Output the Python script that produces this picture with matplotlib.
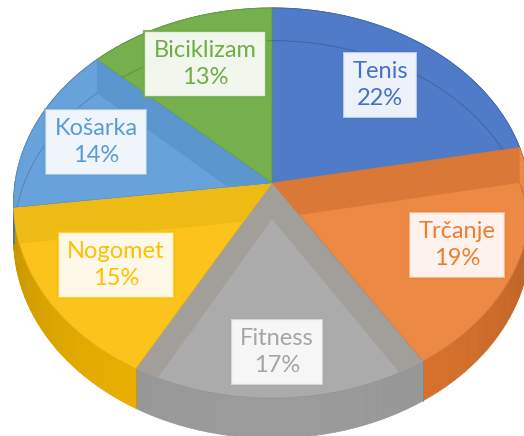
import numpy as np
import matplotlib.pyplot as plt
from matplotlib.patches import Polygon
from matplotlib.colors import to_rgb

# sport preferences, share in percent
sports = ['Tenis', 'Trčanje', 'Fitness', 'Nogomet', 'Košarka', 'Biciklizam']
shares = [22, 19, 17, 15, 14, 13]

# colours: label text / side walls, top faces, radial wall bands
base_colors = ['#4472c4', '#ed7d31', '#a5a5a5', '#ffc000', '#5b9bd5', '#70ad47']
top_colors = ['#4f7bc8', '#ec8945', '#ababab', '#fbc31c', '#68a2da', '#76b04e']
band_colors = ['#4a74c0', '#da7838', '#a29f9b', '#eeba14', '#5b96cf', '#6aa545']
edge_alpha = [0.3, 0.45, 0.4, 0.7, 0.5, 0.85]

# label box centres (pixels)
label_xy = [(380, 85), (457, 245), (277, 352), (116, 265), (96, 142), (205, 64)]

# perspective pie geometry (pixels)
CX, CY = 272, 183
SX, SY = 257, 193
K = 0.1027
DEPTH = 36


def proj(theta, r=1.0, z=0.0):
    th = np.radians(theta)
    xd = r * np.sin(th)
    yd = r * np.cos(th)
    w = 1 + K * yd
    return CX + SX * xd / w, CY - SY * yd / w + DEPTH * z / w


def arc(a0, a1, z=0.0, n=None):
    n = n or max(int(abs(a1 - a0) / 1.0), 2)
    th = np.linspace(a0, a1, n)
    x, y = proj(th, 1.0, z)
    return np.column_stack([x, y])


def shade(color, f):
    return tuple(np.clip(np.array(to_rgb(color)) * f, 0, 1))


fig = plt.figure(figsize=(5.24, 4.36), dpi=100)
ax = fig.add_axes([0, 0, 1, 1])
ax.set_xlim(0, 524)
ax.set_ylim(436, 0)
ax.axis('off')

bounds = np.concatenate([[0], np.cumsum(shares)]) / sum(shares) * 360

# outer side walls, shaded by angle
for i in range(len(sports)):
    a0, a1 = bounds[i], bounds[i + 1]
    th = np.linspace(a0, a1, int((a1 - a0) / 2) + 2)
    for t0, t1 in zip(th[:-1], th[1:]):
        tm = np.radians((t0 + t1) / 2)
        f = 0.74 + 0.2 * max(0.0, -np.cos(tm))
        c = shade(base_colors[i], f)
        quad = [proj(t0), proj(t1), proj(t1, 1, 1), proj(t0, 1, 1)]
        ax.add_patch(Polygon(quad, closed=True, fc=c, ec=c, lw=0.6, zorder=1))
    # edge between neighbouring walls
    x0, y0 = proj(a0)
    x1, y1 = proj(a0, 1, 1)
    ax.plot([x0, x1], [y0, y1], color=shade(base_colors[i], 0.8), lw=0.6, zorder=1.5)

# top faces with the walls showing through
for i in range(len(sports)):
    a0, a1 = bounds[i], bounds[i + 1]
    pts = np.vstack([[proj(0, 0)], arc(a0, a1)])
    top = Polygon(pts, closed=True, fc=top_colors[i],
                  ec=shade(top_colors[i], 0.88), lw=0.7, zorder=2)
    ax.add_patch(top)

    for a in (a0, a1):
        wall = [proj(a, 0), proj(a), proj(a, 1, 1), proj(a, 0, 1)]
        band = Polygon(wall, closed=True, fc=band_colors[i], ec='none', zorder=3)
        band.set_clip_path(top)
        ax.add_patch(band)

    rim = arc(a0, a1, z=1)
    ln, = ax.plot(rim[:, 0], rim[:, 1], color=shade(top_colors[i], 0.7),
                  lw=0.7, alpha=0.6, zorder=3)
    ln.set_clip_path(top)

# labels
for name, val, col, ea, (lx, ly) in zip(sports, shares, base_colors, edge_alpha, label_xy):
    rgb = to_rgb(col)
    ax.text(lx, ly, f'{name}\n{val}%', ha='center', va='center',
            fontsize=17, family='Lato', color=col, linespacing=1.32, zorder=5,
            bbox=dict(boxstyle='square,pad=0.4', fc=(1, 1, 1, 0.9),
                      ec=(*rgb, ea), lw=1.6))

fig.savefig('out.png', dpi=100)
